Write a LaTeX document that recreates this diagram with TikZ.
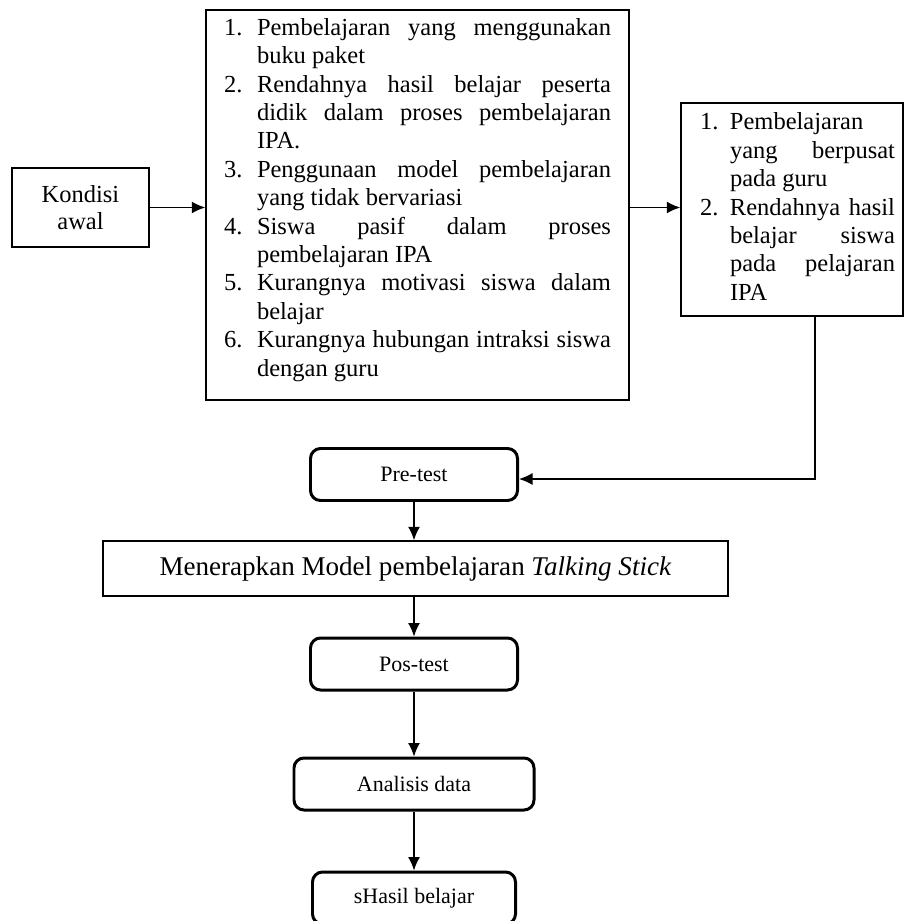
\documentclass[tikz,border=0pt]{standalone}
\usepackage{fontspec}
\setmainfont{Liberation Serif}
\usetikzlibrary{arrows.meta}

\newcommand{\justline}[1]{\makebox[\linewidth][s]{#1}}

\begin{document}
\begin{tikzpicture}[>={Latex[length=0.27cm,width=0.24cm]},
  plainbox/.style={draw, line width=0.85pt, inner sep=0pt},
  stepbox/.style={draw, line width=1.7pt, rounded corners=0.2cm, minimum width=4.14cm,
    minimum height=1.04cm, font=\fontsize{12.5}{15}\selectfont},
  link/.style={->, line width=0.8pt}]
  \useasboundingbox (0,0) rectangle (18.08,-18.42);
  \clip (0,0) rectangle (18.08,-18.42);

  \node[plainbox, align=center, minimum width=2.74cm, minimum height=1.58cm,
    font=\fontsize{13.94}{15.4}\selectfont] (kondisi) at (1.61,-4.15) {Kondisi\\awal};

  \node[plainbox, minimum width=8.46cm, minimum height=7.8cm,
    font=\fontsize{13.94}{16.16}\selectfont] (masalah) at (8.35,-4.10) {%
    \begin{tabular}{@{}p{0.66cm}@{}p{7.08cm}@{}}
    1. & \justline{Pembelajaran yang menggunakan}\\
       & buku paket\\
    2. & \justline{Rendahnya hasil belajar peserta}\\
       & \justline{didik dalam proses pembelajaran}\\
       & IPA.\\
    3. & \justline{Penggunaan model pembelajaran}\\
       & yang tidak bervariasi\\
    4. & \justline{Siswa pasif dalam proses}\\
       & pembelajaran IPA\\
    5. & \justline{Kurangnya motivasi siswa dalam}\\
       & belajar\\
    6. & \justline{Kurangnya hubungan intraksi siswa}\\
       & dengan guru\\[0.2cm]
    \end{tabular}};

  \node[plainbox, minimum width=4.44cm, minimum height=4.26cm,
    font=\fontsize{13.94}{16.16}\selectfont] (fokus) at (15.84,-4.19) {%
    \begin{tabular}{@{\hspace{0.22cm}}p{0.6cm}@{}p{3.3cm}@{}}
    1. & Pembelajaran\\
       & \justline{yang berpusat}\\
       & pada guru\\
    2. & \justline{Rendahnya hasil}\\
       & \justline{belajar siswa}\\
       & \justline{pada pelajaran}\\
       & IPA\\
    \end{tabular}};

  \node[stepbox] (pre) at (8.28,-9.49) {Pre-test};
  \node[plainbox, minimum width=12.5cm, minimum height=1.1cm,
    font=\fontsize{15.4}{18}\selectfont] (terap) at (8.31,-11.37)
    {Menerapkan Model pembelajaran \textit{Talking Stick}};
  \node[stepbox] (pos) at (8.28,-13.28) {Pos-test};
  \node[stepbox, minimum width=4.8cm] (analisis) at (8.28,-15.68) {Analisis data};
  \node[stepbox, minimum width=4.06cm] (hasil) at (8.28,-17.96) {sHasil belajar};

  \coordinate (belok) at (16.30,-9.58);

  \draw[link] (kondisi.east) -- (kondisi.east -| masalah.west);
  \draw[link] (masalah.east |- kondisi.east) -- (kondisi.east -| fokus.west);
  \draw[link] (fokus.south -| belok) |- (belok -| pre.east);
  \draw[link] (pre.south) -- (pre.south |- terap.north);
  \draw[link] (terap.south -| pre.south) -- (pos.north);
  \draw[link] (pos.south) -- (analisis.north);
  \draw[link] (analisis.south) -- (hasil.north);
\end{tikzpicture}
\end{document}
